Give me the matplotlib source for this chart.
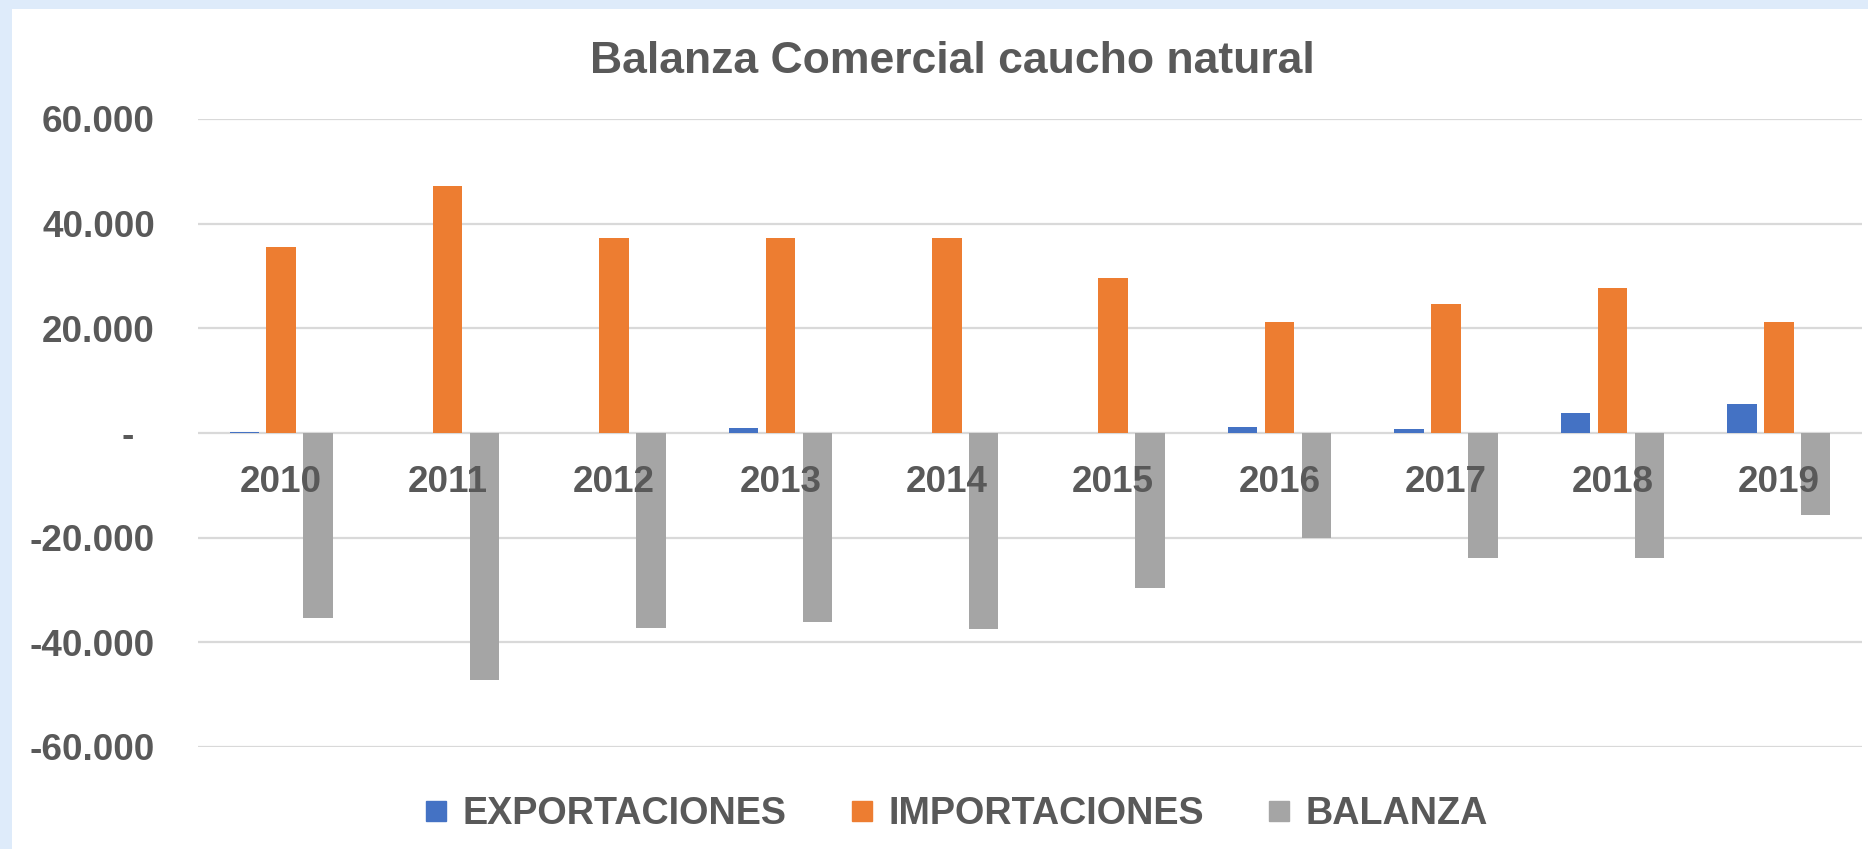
import numpy as np
import matplotlib
matplotlib.use("Agg")
import matplotlib.pyplot as plt
from matplotlib.patches import Rectangle
from matplotlib.lines import Line2D
from matplotlib.ticker import FuncFormatter

# datos
years = ["2010", "2011", "2012", "2013", "2014", "2015", "2016", "2017", "2018", "2019"]
exportaciones = [150, 0, 0, 1000, 0, 0, 1150, 700, 3800, 5600]
importaciones = [35500, 47200, 37300, 37300, 37300, 29600, 21200, 24600, 27700, 21200]
balanza = [-35400, -47200, -37200, -36200, -37400, -29600, -20000, -23800, -23900, -15600]
series_names = ["EXPORTACIONES", "IMPORTACIONES", "BALANZA"]
colors = ["#4472C4", "#ED7D31", "#A5A5A5"]

txt = "#595959"
plt.rcParams["font.family"] = ["Liberation Sans", "DejaVu Sans"]
plt.rcParams["font.weight"] = "bold"

fig = plt.figure(figsize=(18.68, 8.49), dpi=100, facecolor="#DEEBFA")
# zona blanca del grafico (borde celeste arriba e izquierda)
fig.patches.append(Rectangle((12 / 1868, 0), 1, 1 - 9 / 849, transform=fig.transFigure,
                             facecolor="white", edgecolor="none", zorder=-5))

ax = fig.add_axes([198 / 1868, 1 - 747 / 849, (1862 - 198) / 1868, (747 - 119) / 849])
ax.set_facecolor("none")

x = np.arange(len(years))
w = 0.177
step = 0.222
for k, vals in enumerate([exportaciones, importaciones, balanza]):
    ax.bar(x + (k - 1) * step, vals, width=w, color=colors[k], zorder=2)

ax.set_ylim(-60000, 60000)
ax.set_xlim(-0.5, len(years) - 0.5)
ax.set_yticks(np.arange(-60000, 60001, 20000))


def fmt(v, pos):
    if v == 0:
        return "-  "
    return "{:,.0f}".format(v).replace(",", ".")


ax.yaxis.set_major_formatter(FuncFormatter(fmt))
ax.tick_params(axis="y", length=0, pad=31, labelsize=26.6, labelcolor=txt)
ax.set_xticks([])
ax.grid(axis="y", color="#D9D9D9", linewidth=1.6)
ax.set_axisbelow(True)
for s in ax.spines.values():
    s.set_visible(False)

for i, y in enumerate(years):
    ax.text(i, -9400, y, ha="center", va="center", fontsize=26.6,
            fontweight="bold", color=txt, zorder=5)

fig.text(0.51, 0.927, "Balanza Comercial caucho natural", ha="center", va="center",
         fontsize=32, fontweight="bold", color=txt)

handles = [Line2D([], [], linestyle="none", marker="s", markersize=13.7,
                  markerfacecolor=c, markeredgecolor=c) for c in colors]
leg = fig.legend(handles, series_names, loc="center", bbox_to_anchor=(0.5125, 0.041),
                 ncol=3, frameon=False, fontsize=27.2, handlelength=0.5,
                 handletextpad=0.45, columnspacing=1.75, borderpad=0)
for t in leg.get_texts():
    t.set_color(txt)
    t.set_fontweight("bold")

fig.savefig("out.png", dpi=100, facecolor=fig.get_facecolor())
